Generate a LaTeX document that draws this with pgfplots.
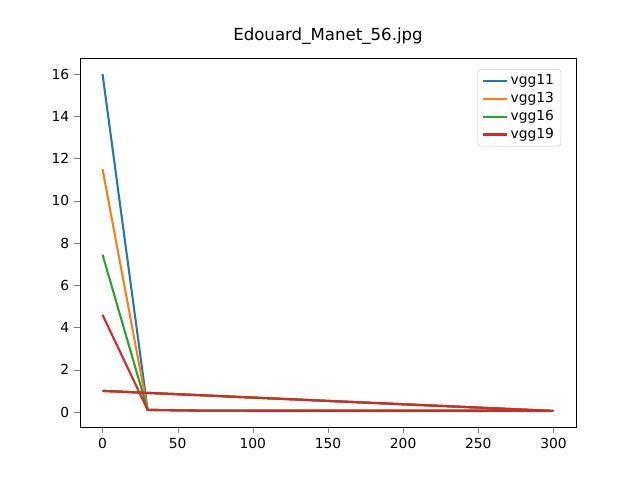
\documentclass[border=0pt]{standalone}
\usepackage{pgfplots}
\pgfplotsset{compat=1.18}
\usepackage{fontspec}
\setmainfont{DejaVu Sans}
\definecolor{c1}{HTML}{1F77B4}\definecolor{c2}{HTML}{FF7F0E}\definecolor{c3}{HTML}{2CA02C}\definecolor{c4}{HTML}{D62728}
\begin{document}
\begin{tikzpicture}
\path[use as bounding box] (0,0) rectangle (6.4in,4.8in);
\begin{axis}[at={(0.8in,0.53in)},anchor=south west,width=4.96in,height=3.69in,scale only axis,
xmin=-15,xmax=315,ymin=-0.71,ymax=16.76,
title={Edouard\_Manet\_56.jpg},title style={font=\fontsize{12}{14}\selectfont},
tick label style={font=\fontsize{10}{12}\selectfont},/pgf/number format/assume math mode=true,
xtick={0,50,...,300},ytick={0,2,...,16},
tick align=outside,xtick pos=bottom,ytick pos=left,
legend pos=north east,legend style={font=\fontsize{10}{12}\selectfont,draw=black!20,rounded corners=2pt},legend cell align=left]
\addplot[c1,line width=1.5pt,no marks] coordinates {(0,16.0)(30,0.1)(60,0.07)(100,0.06)(150,0.06)(200,0.06)(250,0.06)(300,0.05)(0,1.0)};
\addplot[c2,line width=1.5pt,no marks] coordinates {(0,11.5)(30,0.1)(60,0.07)(100,0.06)(150,0.06)(200,0.06)(250,0.06)(300,0.05)(0,1.0)};
\addplot[c3,line width=1.5pt,no marks] coordinates {(0,7.45)(30,0.1)(60,0.07)(100,0.06)(150,0.06)(200,0.06)(250,0.06)(300,0.05)(0,1.0)};
\addplot[c4,line width=1.5pt,no marks] coordinates {(0,4.6)(30,0.1)(60,0.07)(100,0.06)(150,0.06)(200,0.06)(250,0.06)(300,0.05)(0,1.0)};
\legend{vgg11,vgg13,vgg16,vgg19}
\end{axis}
\end{tikzpicture}
\end{document}
